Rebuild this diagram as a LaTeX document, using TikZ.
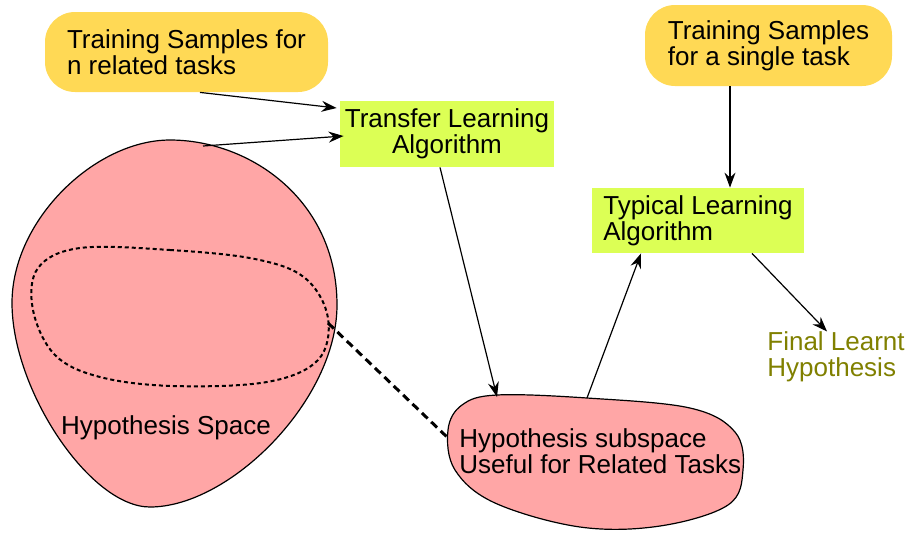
\documentclass[tikz,border=0pt]{standalone}
\usepackage{fontspec}
\setmainfont{Liberation Sans}
\usetikzlibrary{arrows.meta}
\definecolor{pinkfill}{HTML}{FFA6A6}
\definecolor{yellowfill}{HTML}{FFD955}
\definecolor{greenfill}{HTML}{DCFF55}
\definecolor{olivetext}{HTML}{808000}
\tikzset{
  samplebox/.style={fill=yellowfill, rounded corners=15pt, align=left, inner sep=0pt},
  algbox/.style={fill=greenfill, inner sep=0pt},
  plaintext/.style={inner sep=0pt, align=left},
  conn/.style={draw, line width=0.6pt, -{Stealth[length=7.5pt,width=5.5pt,inset=2.5pt]}},
  blob/.style={draw, line width=0.6pt, fill=pinkfill},
  thickdash/.style={draw, line width=1.5pt, dash pattern=on 4pt off 2.5pt},
  thindash/.style={draw, line width=1pt, dash pattern=on 2pt off 1.5pt},
}
\begin{document}
\begin{tikzpicture}[x=0.5pt, y=-0.5pt, font=\fontsize{13}{13}\selectfont]
\useasboundingbox (0,0) rectangle (906,532);
% Hypothesis space blob
\draw[blob] (170,140) .. controls (250,140) and (337,200) .. (337,305)
  .. controls (337,400) and (230,507) .. (150,507)
  .. controls (90,507) and (12,390) .. (12,303)
  .. controls (12,220) and (95,140) .. (170,140) -- cycle;
% dashed inner loop
\draw[thindash] plot[smooth cycle, tension=0.6] coordinates {(80,248) (170,250) (255,259) (305,278) (328,318) (318,360) (267,382) (173,386) (100,377) (55,355) (33,310) (38,268)};
% subspace blob
\draw[blob] plot[smooth cycle, tension=0.6] coordinates {(497,395) (587,398) (690,408) (735,432) (743,470) (728,505) (660,526) (580,527) (495,503) (455,470) (448,430) (462,405)};
% coordinates
\coordinate (hstop) at (203,146);
\coordinate (loopright) at (328,323);
\coordinate (subleft) at (447,437);
\coordinate (subtopin) at (497,397);
\coordinate (subtopout) at (587,398);
% nodes
\node[samplebox, minimum width=141.5pt, minimum height=40pt] (ts1) at (186.5,52) {Training Samples for\\n related tasks};
\node[samplebox, minimum width=123.5pt, minimum height=40.5pt] (ts2) at (768.5,45.5) {Training Samples\\for a single task};
\node[algbox, align=center, minimum width=107pt, minimum height=33pt] (tla) at (447,134) {Transfer Learning\\Algorithm};
\node[algbox, align=left, minimum width=106pt, minimum height=32.5pt, inner xsep=5pt] (tlb) at (698,220.5) {Typical Learning\\Algorithm};
\node[plaintext] (hs) at (166,428) {Hypothesis Space};
\node[plaintext, anchor=west] (hss) at (459,451) {Hypothesis subspace\\Useful for Related Tasks};
\node[plaintext, anchor=west, text=olivetext] (flh) at (767,357) {Final Learnt\\Hypothesis};
% connectors
\draw[conn] ([xshift=6.75pt]ts1.south) -- ([xshift=-1.5pt,yshift=13pt]tla.west);
\draw[conn] (hstop) -- ([xshift=2pt,yshift=-1pt]tla.west);
\draw[conn] ([xshift=-3.5pt]tla.south) -- (subtopin);
\draw[conn] (subtopout) -- ([xshift=-28.5pt]tlb.south);
\draw[conn] ([xshift=-19.25pt]ts2.south) -- ([xshift=16pt]tlb.north);
\draw[conn] ([xshift=27pt]tlb.south) -- ([xshift=-4.5pt]flh.north);
\draw[thickdash] (loopright) -- (subleft);
\end{tikzpicture}
\end{document}
